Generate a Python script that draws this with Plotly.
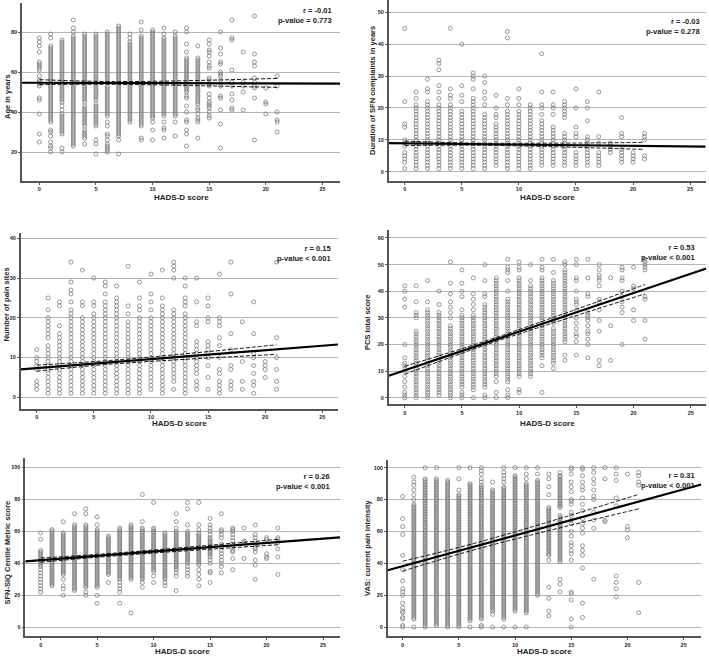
import plotly.graph_objects as go

W, H = 709, 658

# ---------------- data (per HADS-D score 0..21, y values; "a-b" = every integer a..b) ----------------
hads = list(range(22))

age_cols = [
    "77 75 73 70 65 64 63 62 61 58 56 55 54 53 47 46 39 29 25",
    "79 77 73-35 31 30 28 25 23 22 20",
    "76-45 43 41 39-29 22 20",
    "86 82 80 78-23",
    "79-45 43-33 31-27 24",
    "79-46 44-33 26 24 19",
    "80-55 53-38 35 33 29 28 26 24-21 20",
    "83 82 81 80-28 26 19",
    "79 77 75-36 35",
    "85 81 78 77-33 27 26",
    "81-37 35 31 26",
    "82 79 77-38 35 32 31 27",
    "80 78-38 35 28",
    "82 80 74 70 67-50 48 47 43 40 36 35 31 29 23",
    "73 67-44 42 41 39 37 36 35 27",
    "76 74 71 70 68 65 63 62 57 56 54 53 49 47 45 44 43 42 40 38 37",
    "80 72 69 65 64 60 59 58 56 53 48 47 41 34 22",
    "86 77 76 61 55 53 49 46 42 41",
    "70 55 53 50 41",
    "88 69 65 63 57 55 53 52 47 26",
    "52 45 44 39",
    "58 53 40 36 35 30",
]

dur_cols = [
    "45 22 15 14 10 9 8 6 5 4 3 1",
    "25 23 21-1",
    "29 26 25 22-1",
    "35 34 32 27 25 23 21-1",
    "45 26 24 23 21-1",
    "40 27 24 22 19-1",
    "31 30 29 26 23-1",
    "30 28 25 23 21 18-1",
    "24 20 18 17 15-2",
    "44 42 23 21 19-1",
    "26 23 21 19 18-1",
    "21-1",
    "37 25 21 20 18 16-2",
    "25 21 20 18 14-2",
    "22-17 12-2",
    "26 20 14 12 11 6-2",
    "22 20 16 11-2",
    "25 11 9 6-2",
    "9 8 7 6",
    "17 12 11 7 6 5 4 3",
    "6 5 4 3",
    "12 11 10 5 4",
]

pain_cols = [
    "12 10 9 8 7 4 3 2",
    "25 22 20-15 13-1",
    "24 23 18 16-1",
    "34 29 27 26 24 22-1",
    "32 24 23 20-1",
    "30 24 23 21-1",
    "29 28 26 24-1",
    "28 25-1",
    "33 23 21 19-1",
    "29 25 23 22 20-1",
    "31 26 24 22 20-2",
    "32 25 23-1",
    "34 33 32 30 22 21 20-4 2",
    "30 28 25 24 23 21-1",
    "30 24 19 18 14-6 4 3 2",
    "25 23 20 19 14 13 12 11 10 8 5 2",
    "31 20 19 18 15 13 10 7 6 4 3 2 1",
    "34 26 16 12 8 7 4 3 2",
    "19 9 4 2",
    "24 16 11 10 8 6 4 3 1",
    "9 8 7 5",
    "34 15 10 7 4 2",
]

pcs_cols = [
    "42 40 37 34 20 15 13 12 11 10 8 6 4 2 1 0",
    "42 36 32 31 30 25-19 18-0",
    "44 36 33-0",
    "40 35 32-1",
    "51 43 39 36 34 32 30 27-0",
    "48 43 40 38 33 31-4 2 1 0",
    "45 39 37 35 33 31-3 0",
    "50 44 39 38 35-4 1 0",
    "45-8 6 2 0",
    "52 49 48 47 44 40 37-6 3 1 0",
    "51 49 48 45-8 3 2",
    "50 44 42-8",
    "52 49 48 45-15 12 2",
    "52 47 44-28 26-14 13 11",
    "51 50 48-21 16 14",
    "52 50 45 44 40 37 36 35 33 30 28 26 24 23 21 16",
    "52 45 39 38 32 31 30 29 27 25 24 22 20 15",
    "50 48 46 45 44 42 37 36 33 29 25 14 12",
    "45 27 14",
    "49 48 45 44 40 38 36 34 32 20",
    "49 42 41 33 29",
    "52 51 50 49 48 38 37 29 22",
]

siq_cols = [
    "59 55 48-38 36 34 32 30 28 26 24 22",
    "61-26",
    "66 59-33 30 26 24 20",
    "71 64-23",
    "74 71 64-25 22 20",
    "69 64 61-25 20 15",
    "57-33 28",
    "62-30 28 26 24 22 15",
    "64-30 9",
    "83 66 62-30 28 25",
    "78 62-35 32 28",
    "59-30 28 26",
    "71 66 62 60-36 34 32 23",
    "78 74 64 60-40 38 36 34 32",
    "78 64 61 59-39 36 33 30 26",
    "68 64 62 60 58 56-44 42 40 35 34 28",
    "71 61 60 58 56 52 50 48 46 44 42 40 38 34",
    "62 61 60 58 56 54 52 50 48 47 43 36",
    "62 54 53 43",
    "64 58 56 54 52 50 49 47 42 39 30",
    "56 55 46 44 43",
    "62 56 55 53 49 44 33",
]

vas_cols = [
    "82 68 63 58 45 36 29 24 22 20 15 12 10 9 6 5 1 0",
    "94 91 89 86 83 80 77-5 0",
    "100 93-0",
    "100 93-1",
    "92-0",
    "100 93 86 83-0",
    "100 90-4 0",
    "100 98 96 93 91 89-5 1 0",
    "91 86-10 8 0",
    "100 97 95 93 91 88-5 0",
    "100 95-10 0",
    "100 96 93 90-9 0",
    "100 96 92-20",
    "96 93 88 83 75-45 42 25 18 10 7",
    "97 95-75 70-41 30 27 22",
    "100 99 96 91 88 85 80 79 77 72 70 67 65 60 57 53 51 48 46 42 22 21 17 5 0",
    "100 99 95 91 88 86 81 77 73 68 65 62 59 51 48 45 37 15 6",
    "100 97 93 90 86 82 80 72 67 62 30",
    "100 93 67 66",
    "100 96 92 81 76 32 28 24 19",
    "96 63 61 56",
    "97 95 91 89 28 9",
]

y_titles = ["Age in years", "Duration of SFN complaints in years", "Number of pain sites",
            "PCS total score", "SFN-SIQ Centile Metric score", "VAS: current pain intensity"]
r_labels = ["r = -0.01", "r = -0.03", "r = 0.15", "r = 0.53", "r = 0.26", "r = 0.31"]
p_labels = ["p-value = 0.773", "p-value = 0.278", "p-value < 0.001",
            "p-value < 0.001", "p-value < 0.001", "p-value < 0.001"]

# regression fit (intercept, slope) and 95% CI read at HADS-D = 0, 7, 21
fit_intercept = [54.6, 8.9, 7.35, 10.3, 42.0, 38.2]
fit_slope = [-0.015, -0.04, 0.225, 1.45, 0.538, 1.93]
ci_x = [0, 7, 21]
ci_upper = [[56.2, 55.2, 56.8], [9.6, 8.95, 9.2], [8.1, 9.4, 13.2],
            [11.8, 21.2, 42.5], [43.3, 46.6, 55.0], [41.3, 53.7, 83.2]]
ci_lower = [[53.7, 53.8, 52.3], [8.2, 8.3, 7.0], [6.6, 8.45, 10.8],
            [8.8, 19.7, 39.0], [40.7, 44.9, 51.6], [35.1, 49.7, 74.2]]

y_ticks = [[20, 40, 60, 80], [0, 10, 20, 30, 40, 50], [0, 10, 20, 30, 40],
           [0, 10, 20, 30, 40, 50, 60], [0, 20, 40, 60, 80, 100], [0, 20, 40, 60, 80, 100]]
x_ticks = [0, 5, 10, 15, 20, 25]

# ---------------- layout geometry (pixels) ----------------
boxes = [(22, 340, 3, 181), (388.7, 705.7, 0, 181),
         (20.7, 338, 233.3, 409), (388.7, 706.3, 230, 404.3),
         (25.3, 340, 458, 636.3), (387.7, 701.3, 459.7, 636.3)]
x_ranges = [(-1.53, 26.55), (-1.40, 26.36), (-1.40, 26.38), (-1.40, 26.36), (-1.36, 26.5), (-1.33, 26.57)]
y_ranges = [(5.5, 94.5), (-2.92, 53.9), (-2.94, 41.26), (-2.48, 63.0), (-5.6, 105.8), (-5.8, 105.0)]
ytitle_pos = [(7, 97), (372, 91), (5.5, 305), (367, 323), (6.5, 553), (367, 548)]
xtitle_y = [197.5, 197.5, 423.5, 423.5, 651, 651]
rp_pos = [(334, 4), (702, 15), (333, 242), (697, 241), (332, 470), (697, 469)]


def parse(s):
    vals = []
    for tok in s.split():
        if "-" in tok:
            a, b = tok.split("-")
            a, b = int(a), int(b)
            vals.extend(range(max(a, b), min(a, b) - 1, -1))
        else:
            vals.append(float(tok))
    return vals


def px(x):
    return x / W


def py(y):
    return 1 - y / H


panels = [age_cols, dur_cols, pain_cols, pcs_cols, siq_cols, vas_cols]

fig = go.Figure()
layout = dict(width=W, height=H, margin=dict(l=0, r=0, t=0, b=0),
              paper_bgcolor="white", plot_bgcolor="white", showlegend=False,
              font=dict(family="Liberation Sans, Arial, sans-serif", color="#222"))
annotations = []

for i, cols in enumerate(panels):
    sfx = "" if i == 0 else str(i + 1)
    xa, ya = "x" + sfx, "y" + sfx
    xs, ys = [], []
    for h, c in zip(hads, cols):
        v = parse(c)
        xs += [h] * len(v)
        ys += v
    fig.add_trace(go.Scatter(x=xs, y=ys, mode="markers", xaxis=xa, yaxis=ya,
                             marker=dict(symbol="circle-open", size=4, color="#7c7c7c",
                                         line=dict(width=0.8, color="#7c7c7c")),
                             hoverinfo="skip"))
    fig.add_trace(go.Scatter(x=ci_x, y=ci_upper[i], mode="lines", xaxis=xa, yaxis=ya,
                             line=dict(color="#111", width=1, dash="4px,2px", shape="spline"),
                             hoverinfo="skip"))
    fig.add_trace(go.Scatter(x=ci_x, y=ci_lower[i], mode="lines", xaxis=xa, yaxis=ya,
                             line=dict(color="#111", width=1, dash="4px,2px", shape="spline"),
                             hoverinfo="skip"))
    x0, x1 = x_ranges[i]
    fig.add_trace(go.Scatter(x=[x0, x1],
                             y=[fit_intercept[i] + fit_slope[i] * x0, fit_intercept[i] + fit_slope[i] * x1],
                             mode="lines", xaxis=xa, yaxis=ya,
                             line=dict(color="#000", width=2.2), hoverinfo="skip"))

    l, r, t, b = boxes[i]
    layout["xaxis" + sfx] = dict(domain=[px(l), px(r)], anchor=ya, range=list(x_ranges[i]),
                                 tickvals=x_ticks, showgrid=False, zeroline=False,
                                 showline=True, linecolor="#555", linewidth=1.5,
                                 ticks="outside", ticklen=2, tickcolor="#555",
                                 tickfont=dict(size=5.5, color="#222", weight="bold"))
    layout["yaxis" + sfx] = dict(domain=[py(b), py(t)], anchor=xa, range=list(y_ranges[i]),
                                 tickvals=y_ticks[i], showgrid=True, gridcolor="#b4b4b4",
                                 gridwidth=1.4, zeroline=False,
                                 showline=True, linecolor="#555", linewidth=1.5,
                                 ticks="outside", ticklen=2, tickcolor="#555",
                                 tickfont=dict(size=5.5, color="#222", weight="bold"))
    annotations.append(dict(text="HADS-D score", xref="paper", yref="paper",
                            x=px((l + r) / 2), y=py(xtitle_y[i]), showarrow=False,
                            xanchor="center", yanchor="middle",
                            font=dict(size=8, color="#222", weight="bold")))
    tx, ty = ytitle_pos[i]
    annotations.append(dict(text=y_titles[i], xref="paper", yref="paper", textangle=-90,
                            x=px(tx), y=py(ty), showarrow=False,
                            xanchor="center", yanchor="middle",
                            font=dict(size=7.5, color="#222", weight="bold")))
    rx, ry = rp_pos[i]
    annotations.append(dict(text=r_labels[i] + "<br>" + p_labels[i], xref="paper", yref="paper",
                            x=px(rx), y=py(ry), showarrow=False, align="right",
                            xanchor="right", yanchor="top",
                            font=dict(size=7.5, color="#222", weight="bold")))

layout["annotations"] = annotations
fig.update_layout(**layout)
fig.write_html("out.html", config={"displayModeBar": False},
               post_script="document.body.style.margin='0';document.body.style.overflow='hidden';")
